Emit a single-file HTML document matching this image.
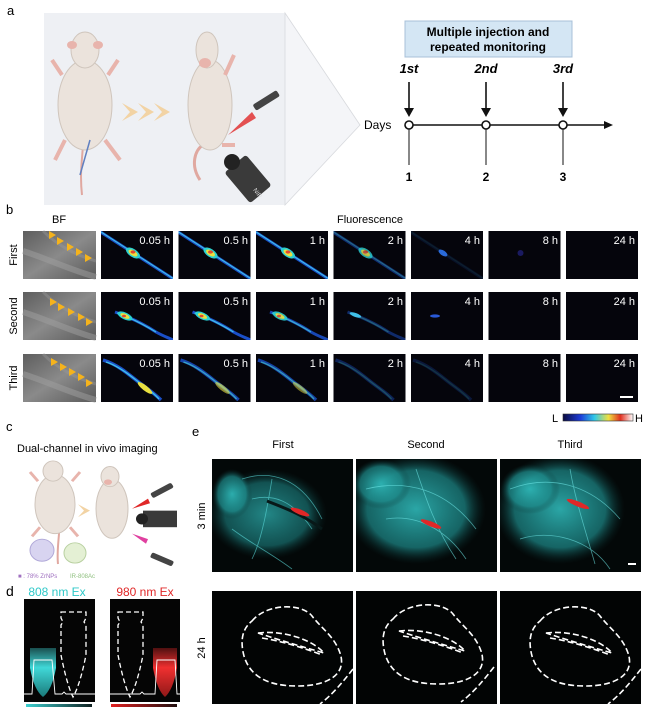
<!DOCTYPE html>
<html><head><meta charset="utf-8"><style>
html,body{margin:0;padding:0;background:#fff;}
svg{display:block;font-family:"Liberation Sans",sans-serif;}
</style></head><body>
<svg width="650" height="711" viewBox="0 0 650 711" xmlns="http://www.w3.org/2000/svg">
<defs>
<linearGradient id="bfg" x1="0" y1="0" x2="1" y2="1"><stop offset="0" stop-color="#5e5e5e"/><stop offset="0.5" stop-color="#8a8a8a"/><stop offset="1" stop-color="#5a5a5a"/></linearGradient>
<linearGradient id="cbar" x1="0" x2="1"><stop offset="0" stop-color="#0a0a40"/><stop offset="0.25" stop-color="#1c3cd8"/><stop offset="0.45" stop-color="#30c8e8"/><stop offset="0.65" stop-color="#f0e040"/><stop offset="0.82" stop-color="#e03020"/><stop offset="1" stop-color="#ffffff"/></linearGradient>
<linearGradient id="cyb" x1="0" x2="1"><stop offset="0" stop-color="#3cd0d0"/><stop offset="1" stop-color="#102020"/></linearGradient>
<linearGradient id="rdb" x1="0" x2="1"><stop offset="0" stop-color="#e02020"/><stop offset="1" stop-color="#201010"/></linearGradient>
<linearGradient id="cyt" x1="0" y1="0" x2="0" y2="1"><stop offset="0" stop-color="#1a5050"/><stop offset="0.4" stop-color="#40d8d8"/><stop offset="1" stop-color="#1a7a7a"/></linearGradient>
<linearGradient id="rdt" x1="0" y1="0" x2="0" y2="1"><stop offset="0" stop-color="#501010"/><stop offset="0.4" stop-color="#f03030"/><stop offset="1" stop-color="#901818"/></linearGradient>
<radialGradient id="cyan" cx="0.5" cy="0.5" r="0.5"><stop offset="0" stop-color="#2fb8b8" stop-opacity="0.9"/><stop offset="0.7" stop-color="#1e8c8c" stop-opacity="0.7"/><stop offset="1" stop-color="#0a3030" stop-opacity="0"/></radialGradient>
<g id="r1"><path d="M-2,0 L74,49" stroke="#1a4fc8" stroke-width="3"/><path d="M0,1 L73,48" stroke="#40c0e8" stroke-width="1.1"/></g>
<g id="h1"><ellipse cx="32" cy="22" rx="8" ry="4" fill="#2ad0d0" transform="rotate(33 32 22)"/><ellipse cx="32" cy="22" rx="5" ry="2.6" fill="#e8e040" transform="rotate(33 32 22)"/><ellipse cx="32" cy="21" rx="2.5" ry="1.6" fill="#e04a30"/></g>
<g id="r2"><path d="M14,20 C25,24 40,30 55,40 C62,44 68,46 72,48" stroke="#1a4fc8" stroke-width="3" fill="none"/><path d="M16,21 C28,25 40,31 55,40" stroke="#40c0e8" stroke-width="1.2" fill="none"/></g>
<g id="h2"><ellipse cx="24" cy="24" rx="8" ry="3.5" fill="#2ad0d0" transform="rotate(25 24 24)"/><ellipse cx="24" cy="24" rx="5" ry="2.2" fill="#e8e040" transform="rotate(25 24 24)"/><ellipse cx="23" cy="24" rx="2" ry="1.3" fill="#e04a30"/></g>
<g id="r3"><path d="M2,6 C15,10 25,18 35,26 C45,34 52,38 60,46" stroke="#1a4fc8" stroke-width="3.5" fill="none"/><path d="M5,8 C15,11 25,18 35,26 C45,34 52,38 58,45" stroke="#40c0e8" stroke-width="1.4" fill="none"/></g>
<g id="h3"><ellipse cx="44" cy="34" rx="9" ry="2.6" fill="#e8e040" transform="rotate(38 44 34)"/></g>
<g id="bft"><rect width="73" height="48" fill="url(#bfg)"/><path d="M0,20 C25,28 50,40 73,46" stroke="#a0a0a0" stroke-width="6" fill="none" opacity="0.5"/><path d="M20,0 C35,15 55,25 73,30" stroke="#9a9a9a" stroke-width="3" fill="none" opacity="0.4"/></g>
<polygon id="arr" points="0,0 7,4 0,8" fill="#f5b31c"/>
<g id="out24" fill="none" stroke="#fff" stroke-width="1.6" stroke-dasharray="6,3"><path d="M40,30 C55,12 90,12 100,25 C110,38 122,45 128,62 C135,82 118,95 85,95 C55,95 38,85 32,65 C28,50 30,38 40,30 Z"/><path d="M46,42 C70,39 100,48 112,62 C95,57 70,50 46,42 Z"/><path d="M50,47 C70,50 95,58 110,64"/><path d="M141,78 C130,92 120,104 108,113"/></g>
</defs>

<text x="7" y="15" font-size="13">a</text>
<rect x="44" y="13" width="241" height="192" fill="#eef0f4"/>
<polygon points="285,13 360,125 285,205" fill="#f4f5f8" stroke="#d8dade" stroke-width="0.8"/>
<path d="M82,195 C78,160 88,140 80,120" stroke="#e0a8a0" stroke-width="2" fill="none"/>
<ellipse cx="85" cy="105" rx="27" ry="45" fill="#ebe3dc" stroke="#cfc5bc"/>
<ellipse cx="85" cy="50" rx="14" ry="18" fill="#ebe3dc" stroke="#cfc5bc"/>
<ellipse cx="72" cy="45" rx="5" ry="4" fill="#e8b4ac"/><ellipse cx="98" cy="45" rx="5" ry="4" fill="#e8b4ac"/>
<path d="M62,75 L52,60 M108,75 L118,60 M65,140 L55,160 M105,140 L120,160" stroke="#e8b4ac" stroke-width="4" fill="none"/>
<path d="M80,175 L90,140" stroke="#6080c0" stroke-width="1.5"/>
<path d="M122,103 L138,112 L122,121 L130,112 Z M138,103 L154,112 L138,121 L146,112 Z M154,103 L170,112 L154,121 L162,112 Z" fill="#f2d3a4"/>
<path d="M200,180 C190,165 195,150 203,145" stroke="#e0a8a0" stroke-width="3" fill="none"/>
<ellipse cx="210" cy="105" rx="22" ry="45" fill="#ebe3dc" stroke="#cfc5bc"/>
<ellipse cx="207" cy="50" rx="11" ry="18" fill="#ebe3dc" stroke="#cfc5bc"/>
<ellipse cx="205" cy="63" rx="6" ry="5" fill="#e8b4ac"/>
<path d="M225,75 L234,55 M222,145 L235,145" stroke="#e8b4ac" stroke-width="4"/>
<rect x="252" y="97" width="28" height="7" rx="2" fill="#444" transform="rotate(-32 266 100)"/>
<polygon points="228,135 252,112 256,118" fill="#e02828" opacity="0.8"/>
<rect x="228" y="165" width="40" height="28" rx="3" fill="#3a3a3a" transform="rotate(50 248 179)"/>
<circle cx="232" cy="162" r="8" fill="#222"/>
<text x="253" y="190" font-size="6" fill="#ddd" transform="rotate(55 253 190)">NIR</text>
<rect x="405" y="21" width="167" height="36" fill="#d4e6f4" stroke="#a8c0d8"/>
<text x="488" y="36" font-size="12" font-weight="bold" text-anchor="middle">Multiple injection and</text>
<text x="488" y="51" font-size="12" font-weight="bold" text-anchor="middle">repeated monitoring</text>
<g font-size="13" font-weight="bold" font-style="italic" text-anchor="middle">
<text x="409" y="73">1st</text><text x="486" y="73">2nd</text><text x="563" y="73">3rd</text></g>
<g stroke="#111" stroke-width="1.6">
<line x1="409" y1="82" x2="409" y2="110"/><line x1="486" y1="82" x2="486" y2="110"/><line x1="563" y1="82" x2="563" y2="110"/>
<line x1="409" y1="125" x2="606" y2="125"/>
<line x1="409" y1="125" x2="409" y2="165" stroke-width="1"/><line x1="486" y1="125" x2="486" y2="165" stroke-width="1"/><line x1="563" y1="125" x2="563" y2="165" stroke-width="1"/></g>
<g fill="#111"><polygon points="404,108 414,108 409,117"/><polygon points="481,108 491,108 486,117"/><polygon points="558,108 568,108 563,117"/><polygon points="604,121 613,125 604,129"/></g>
<g fill="#fff" stroke="#111" stroke-width="1.6"><circle cx="409" cy="125" r="4"/><circle cx="486" cy="125" r="4"/><circle cx="563" cy="125" r="4"/></g>
<text x="364" y="129" font-size="12">Days</text>
<g font-size="12" font-weight="bold" text-anchor="middle"><text x="409" y="181">1</text><text x="486" y="181">2</text><text x="563" y="181">3</text></g>

<text x="6" y="214" font-size="13">b</text>
<text x="52" y="223" font-size="11">BF</text>
<text x="370" y="223" font-size="11" text-anchor="middle">Fluorescence</text>
<g font-size="11">
<text transform="translate(17 255) rotate(-90)" text-anchor="middle">First</text>
<text transform="translate(17 316) rotate(-90)" text-anchor="middle">Second</text>
<text transform="translate(17 378) rotate(-90)" text-anchor="middle">Third</text></g>
<g transform="translate(23 231)"><use href="#bft"/><use href="#arr" x="26" y="0"/><use href="#arr" x="34" y="6"/><use href="#arr" x="44" y="12"/><use href="#arr" x="53" y="17"/><use href="#arr" x="62" y="23"/></g>
<g transform="translate(23 292)"><use href="#bft"/><use href="#arr" x="27" y="6"/><use href="#arr" x="35" y="11"/><use href="#arr" x="45" y="16"/><use href="#arr" x="55" y="21"/><use href="#arr" x="63" y="26"/></g>
<g transform="translate(23 354)"><use href="#bft"/><use href="#arr" x="28" y="4"/><use href="#arr" x="37" y="9"/><use href="#arr" x="46" y="14"/><use href="#arr" x="55" y="19"/><use href="#arr" x="63" y="25"/></g>
<g fill="#05050c">
<rect x="101" y="231" width="72" height="48"/><rect x="178.5" y="231" width="72" height="48"/><rect x="256" y="231" width="72" height="48"/><rect x="333.5" y="231" width="72" height="48"/><rect x="411" y="231" width="72" height="48"/><rect x="488.5" y="231" width="72" height="48"/><rect x="566" y="231" width="72" height="48"/>
<rect x="101" y="292" width="72" height="48"/><rect x="178.5" y="292" width="72" height="48"/><rect x="256" y="292" width="72" height="48"/><rect x="333.5" y="292" width="72" height="48"/><rect x="411" y="292" width="72" height="48"/><rect x="488.5" y="292" width="72" height="48"/><rect x="566" y="292" width="72" height="48"/>
<rect x="101" y="354" width="72" height="48"/><rect x="178.5" y="354" width="72" height="48"/><rect x="256" y="354" width="72" height="48"/><rect x="333.5" y="354" width="72" height="48"/><rect x="411" y="354" width="72" height="48"/><rect x="488.5" y="354" width="72" height="48"/><rect x="566" y="354" width="72" height="48"/>
</g>
<svg x="101" y="231" width="72" height="48"><use href="#r1"/><use href="#h1"/></svg>
<svg x="178.5" y="231" width="72" height="48"><use href="#r1"/><use href="#h1"/></svg>
<svg x="256" y="231" width="72" height="48"><use href="#r1"/><use href="#h1"/></svg>
<svg x="333.5" y="231" width="72" height="48"><use href="#r1" opacity="0.55"/><use href="#h1" opacity="0.8"/></svg>
<svg x="411" y="231" width="72" height="48"><use href="#r1" opacity="0.15"/><ellipse cx="32" cy="22" rx="5" ry="2.5" fill="#2a6ad8" transform="rotate(33 32 22)"/></svg>
<svg x="488.5" y="231" width="72" height="48"><circle cx="32" cy="22" r="3" fill="#1a1a60"/></svg>
<svg x="101" y="292" width="72" height="48"><use href="#r2"/><use href="#h2"/></svg>
<svg x="178.5" y="292" width="72" height="48"><use href="#r2"/><use href="#h2"/></svg>
<svg x="256" y="292" width="72" height="48"><use href="#r2" opacity="0.9"/><use href="#h2" opacity="0.9"/></svg>
<svg x="333.5" y="292" width="72" height="48"><use href="#r2" opacity="0.5"/><ellipse cx="22" cy="23" rx="6" ry="2" fill="#40c0e8" transform="rotate(20 22 23)"/></svg>
<svg x="411" y="292" width="72" height="48"><ellipse cx="24" cy="24" rx="5" ry="1.6" fill="#2a5ad8"/></svg>
<svg x="101" y="354" width="72" height="48"><use href="#r3"/><use href="#h3"/></svg>
<svg x="178.5" y="354" width="72" height="48"><use href="#r3" opacity="0.85"/><use href="#h3" opacity="0.6"/></svg>
<svg x="256" y="354" width="72" height="48"><use href="#r3" opacity="0.8"/><use href="#h3" opacity="0.5"/></svg>
<svg x="333.5" y="354" width="72" height="48"><use href="#r3" opacity="0.4"/></svg>
<svg x="411" y="354" width="72" height="48"><use href="#r3" opacity="0.25"/></svg>
<g font-size="11" fill="#fff" text-anchor="end">
<text x="170" y="244">0.05 h</text><text x="248" y="244">0.5 h</text><text x="325" y="244">1 h</text><text x="403" y="244">2 h</text><text x="480" y="244">4 h</text><text x="558" y="244">8 h</text><text x="635" y="244">24 h</text>
<text x="170" y="305">0.05 h</text><text x="248" y="305">0.5 h</text><text x="325" y="305">1 h</text><text x="403" y="305">2 h</text><text x="480" y="305">4 h</text><text x="558" y="305">8 h</text><text x="635" y="305">24 h</text>
<text x="170" y="367">0.05 h</text><text x="248" y="367">0.5 h</text><text x="325" y="367">1 h</text><text x="403" y="367">2 h</text><text x="480" y="367">4 h</text><text x="558" y="367">8 h</text><text x="635" y="367">24 h</text></g>
<rect x="620" y="396" width="13" height="2" fill="#fff"/>
<text x="552" y="422" font-size="11">L</text>
<rect x="563" y="414" width="70" height="7" fill="url(#cbar)" stroke="#333" stroke-width="0.6"/>
<text x="635" y="422" font-size="11">H</text>

<text x="6" y="431" font-size="13">c</text>
<text x="17" y="452" font-size="11">Dual-channel in vivo imaging</text>
<g transform="translate(0 12) translate(0 460) scale(1 0.92) translate(0 -460)">
<path d="M58,560 C56,540 62,520 58,505" stroke="#e0a8a0" stroke-width="2" fill="none"/>
<ellipse cx="55" cy="495" rx="20" ry="32" fill="#ebe3dc" stroke="#cfc5bc"/>
<ellipse cx="53" cy="459" rx="10" ry="11" fill="#ebe3dc" stroke="#cfc5bc"/>
<path d="M38,470 L30,460 M72,470 L80,460 M40,520 L32,530 M70,520 L78,530" stroke="#e8b4ac" stroke-width="3"/>
<circle cx="42" cy="545" r="12" fill="#d8d4f0" stroke="#b0a8d8"/>
<circle cx="75" cy="548" r="11" fill="#e4f0d4" stroke="#b8d0a0"/>
<path d="M78,495 L90,502 L78,509 L84,502 Z" fill="#f2d3a4"/>
<ellipse cx="112" cy="500" rx="16" ry="32" fill="#ebe3dc" stroke="#cfc5bc"/>
<ellipse cx="110" cy="465" rx="9" ry="11" fill="#ebe3dc" stroke="#cfc5bc"/>
<ellipse cx="108" cy="471" rx="4" ry="3" fill="#e8b4ac"/>
<rect x="150" y="477" width="24" height="6" rx="2" fill="#444" transform="rotate(-30 162 480)"/>
<polygon points="132,500 148,489 150,494" fill="#e02828"/>
<rect x="143" y="502" width="34" height="18" fill="#3a3a3a"/><circle cx="142" cy="511" r="6" fill="#222"/>
<rect x="150" y="552" width="24" height="6" rx="2" fill="#444" transform="rotate(25 162 555)"/>
<polygon points="132,527 148,533 146,538" fill="#e040a0"/>
</g>
<text x="18" y="578" font-size="6" fill="#a070c0">■ : 78% ZrNPs</text><text x="70" y="578" font-size="6" fill="#90c080">IR-808Ac</text>

<text x="6" y="596" font-size="14">d</text>
<text x="57" y="596" font-size="12" fill="#2ec8c8" text-anchor="middle">808 nm Ex</text>
<text x="145" y="596" font-size="12" fill="#e02828" text-anchor="middle">980 nm Ex</text>
<rect x="24" y="599" width="71" height="103" fill="#050505"/>
<rect x="110" y="599" width="70" height="103" fill="#050505"/>
<path d="M30,648 L56,648 L56,668 Q52,690 43,697 Q34,690 30,668 Z" fill="url(#cyt)"/>
<path d="M153,648 L177,648 L177,668 Q173,690 165,697 Q157,690 153,668 Z" fill="url(#rdt)"/>
<g fill="none" stroke="#fff" stroke-width="1.3" stroke-dasharray="5,3">
<path d="M61,612 L86,612 L86,618 L84,622 L86,625 L86,655 Q80,685 73,697 Q67,685 61,655 L61,625 L63,622 L61,618 Z"/>
<path d="M118,612 L143,612 L143,618 L141,622 L143,625 L143,655 Q137,685 130,697 Q124,685 118,655 L118,625 L120,622 L118,618 Z"/></g>
<g fill="none" stroke="#fff" stroke-width="0.9">
<path d="M24,694 L32,694 L34,660 L52,660 L55,694 L62,694 L64,692 L66,694 L95,694"/>
<path d="M110,694 L140,694 L142,692 L144,694 L155,694 L157,660 L175,660 L177,694 L180,694"/></g>
<rect x="26" y="704" width="66" height="3" fill="url(#cyb)"/>
<rect x="111" y="704" width="66" height="3" fill="url(#rdb)"/>

<text x="192" y="436" font-size="13">e</text>
<g font-size="11" text-anchor="middle"><text x="283" y="448">First</text><text x="426" y="448">Second</text><text x="570" y="448">Third</text></g>
<text transform="translate(205 516) rotate(-90)" font-size="11" text-anchor="middle">3 min</text>
<text transform="translate(205 648) rotate(-90)" font-size="11" text-anchor="middle">24 h</text>
<svg x="212" y="459" width="141" height="113"><rect width="141" height="113" fill="#030808"/>
<ellipse cx="55" cy="55" rx="60" ry="45" fill="url(#cyan)" opacity="0.8"/><ellipse cx="20" cy="35" rx="20" ry="25" fill="url(#cyan)"/>
<g stroke="#5ee0e0" stroke-width="0.8" fill="none" opacity="0.6"><path d="M30,20 C60,10 90,20 110,60"/><path d="M40,40 C60,35 80,40 100,70"/><path d="M20,70 C40,85 60,95 80,110"/><path d="M60,20 C55,50 50,80 40,100"/></g>
<path d="M55,42 C70,48 90,55 110,70" stroke="#081818" stroke-width="3" fill="none"/>
<ellipse cx="88" cy="53" rx="10" ry="2.5" fill="#e02828" transform="rotate(22 88 53)"/></svg>
<svg x="356" y="459" width="141" height="113"><rect width="141" height="113" fill="#030808"/>
<ellipse cx="60" cy="50" rx="70" ry="55" fill="url(#cyan)"/><ellipse cx="25" cy="25" rx="30" ry="25" fill="url(#cyan)"/>
<g stroke="#6ee8e8" stroke-width="0.8" fill="none" opacity="0.6"><path d="M10,30 C50,20 90,30 120,70"/><path d="M30,60 C60,55 90,70 110,100"/><path d="M60,10 C70,40 80,70 100,100"/></g>
<ellipse cx="75" cy="65" rx="11" ry="2.5" fill="#e02828" transform="rotate(22 75 65)"/></svg>
<svg x="500" y="459" width="141" height="113"><rect width="141" height="113" fill="#030808"/>
<ellipse cx="60" cy="50" rx="65" ry="55" fill="url(#cyan)"/><ellipse cx="30" cy="30" rx="30" ry="25" fill="url(#cyan)"/>
<g stroke="#6ee8e8" stroke-width="0.8" fill="none" opacity="0.6"><path d="M10,30 C50,15 90,25 120,60"/><path d="M20,80 C50,70 90,80 110,110"/><path d="M70,10 C75,40 85,70 95,105"/></g>
<ellipse cx="78" cy="45" rx="12" ry="2.5" fill="#e02828" transform="rotate(22 78 45)"/>
<rect x="128" y="104" width="8" height="2" fill="#fff"/></svg>
<svg x="212" y="591" width="141" height="113"><rect width="141" height="113" fill="#020404"/><use href="#out24"/></svg>
<svg x="356" y="591" width="141" height="113"><rect width="141" height="113" fill="#020404"/><use href="#out24" transform="translate(-3 -2)"/></svg>
<svg x="500" y="591" width="141" height="113"><rect width="141" height="113" fill="#020404"/><use href="#out24"/></svg>
</svg>
</body></html>
